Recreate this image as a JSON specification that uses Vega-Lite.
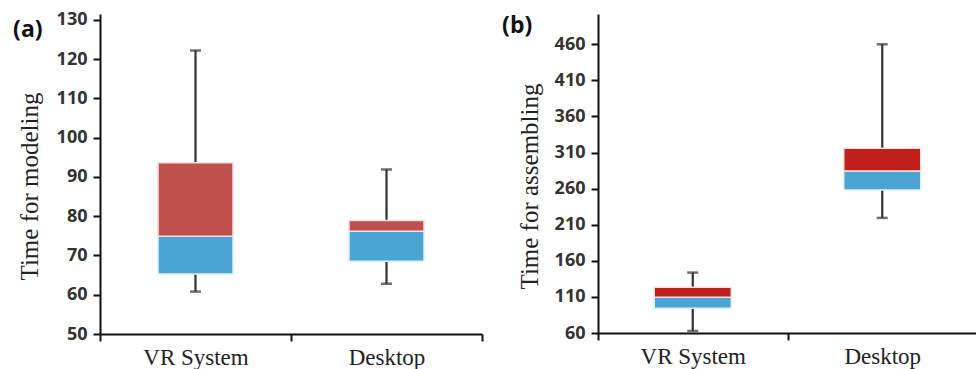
{
  "$schema": "https://vega.github.io/schema/vega-lite/v6.json",
  "padding": {"left": 13, "top": 10, "right": 0, "bottom": 0},
  "background": "white",
  "spacing": 19,
  "datasets": {
    "a": [
      {"group": "VR System", "low": 60.8, "q1": 65.3, "median": 74.9, "q3": 93.6, "high": 122.2},
      {"group": "Desktop", "low": 62.8, "q1": 68.5, "median": 76.2, "q3": 78.9, "high": 91.9}
    ],
    "b": [
      {"group": "VR System", "low": 62.8, "q1": 94.3, "median": 109.5, "q3": 123.3, "high": 143.7},
      {"group": "Desktop", "low": 219.5, "q1": 258.3, "median": 284.3, "q3": 316, "high": 460}
    ]
  },
  "config": {
    "view": {"stroke": null},
    "axis": {
      "domainColor": "#111", "domainWidth": 2, "tickColor": "#111", "tickWidth": 2, "tickSize": 7,
      "grid": false, "labelColor": "#333", "titleColor": "#222", "labelOverlap": false, "labelFlush": false
    },
    "title": {"font": "Open Sans", "fontWeight": "bold", "fontSize": 23, "color": "#111"}
  },
  "hconcat": [
    {
      "data": {"name": "a"},
      "width": 382,
      "height": 320,
      "title": {"text": "(a)", "anchor": "start", "frame": "bounds", "offset": -31, "dx": -4},
      "encoding": {
        "x": {
          "field": "group", "type": "nominal", "sort": ["VR System", "Desktop"],
          "scale": {"paddingInner": 0, "paddingOuter": 0},
          "axis": {"title": null, "labelAngle": 0, "tickBand": "extent", "labelFont": "Liberation Serif", "labelFontSize": 23, "labelColor": "#222", "labelPadding": 5}
        }
      },
      "layer": [
        {
          "mark": {"type": "rule", "color": "#333", "strokeWidth": 2.2},
          "encoding": {
            "y": {"field": "low", "type": "quantitative", "scale": {"domain": [50, 131.5], "nice": false, "zero": false},
              "axis": {"title": "Time for modeling", "titleY": 172, "values": [50, 60, 70, 80, 90, 100, 110, 120, 130], "tickCount": 20, "labelOverlap": false, "labelFlush": false, "labelFont": "Open Sans", "labelFontWeight": "bold", "labelFontSize": 18, "labelPadding": 6, "titleFont": "Liberation Serif", "titleFontWeight": "normal", "titleFontSize": 25, "titlePadding": 14}},
            "y2": {"field": "high"}
          }
        },
        {
          "mark": {"type": "tick", "color": "#333", "thickness": 2.5, "size": 11},
          "encoding": {"y": {"field": "low", "type": "quantitative"}}
        },
        {
          "mark": {"type": "tick", "color": "#333", "thickness": 2.5, "size": 11},
          "encoding": {"y": {"field": "high", "type": "quantitative"}}
        },
        {
          "mark": {"type": "bar", "size": 75, "color": "#4BA5D4", "stroke": "#dff1fa", "strokeWidth": 1.5},
          "encoding": {"y": {"field": "q1", "type": "quantitative"}, "y2": {"field": "median"}}
        },
        {
          "mark": {"type": "bar", "size": 75, "color": "#C0504D", "stroke": "#f3e0e0", "strokeWidth": 1.5},
          "encoding": {"y": {"field": "median", "type": "quantitative"}, "y2": {"field": "q3"}}
        }
      ]
    },
    {
      "data": {"name": "b"},
      "width": 379,
      "height": 319,
      "title": {"text": "(b)", "anchor": "start", "frame": "bounds", "offset": -24, "dx": -15},
      "encoding": {
        "x": {
          "field": "group", "type": "nominal", "sort": ["VR System", "Desktop"],
          "scale": {"paddingInner": 0, "paddingOuter": 0},
          "axis": {"title": null, "labelAngle": 0, "tickBand": "extent", "labelFont": "Liberation Serif", "labelFontSize": 23, "labelColor": "#222", "labelPadding": 5}
        }
      },
      "layer": [
        {
          "mark": {"type": "rule", "color": "#333", "strokeWidth": 2.2},
          "encoding": {
            "y": {"field": "low", "type": "quantitative", "scale": {"domain": [60, 502], "nice": false, "zero": false},
              "axis": {"title": "Time for assembling", "titleY": 172, "values": [60, 110, 160, 210, 260, 310, 360, 410, 460], "tickCount": 20, "labelOverlap": false, "labelFlush": false, "labelFont": "Open Sans", "labelFontWeight": "bold", "labelFontSize": 18, "labelPadding": 6, "titleFont": "Liberation Serif", "titleFontWeight": "normal", "titleFontSize": 25, "titlePadding": 12}},
            "y2": {"field": "high"}
          }
        },
        {
          "mark": {"type": "tick", "color": "#333", "thickness": 2.5, "size": 11},
          "encoding": {"y": {"field": "low", "type": "quantitative"}}
        },
        {
          "mark": {"type": "tick", "color": "#333", "thickness": 2.5, "size": 11},
          "encoding": {"y": {"field": "high", "type": "quantitative"}}
        },
        {
          "mark": {"type": "bar", "size": 77, "color": "#4BA5D4", "stroke": "#dff1fa", "strokeWidth": 1.5},
          "encoding": {"y": {"field": "q1", "type": "quantitative"}, "y2": {"field": "median"}}
        },
        {
          "mark": {"type": "bar", "size": 77, "color": "#BF2019", "stroke": "#f3e0e0", "strokeWidth": 1.5},
          "encoding": {"y": {"field": "median", "type": "quantitative"}, "y2": {"field": "q3"}}
        }
      ]
    }
  ]
}
